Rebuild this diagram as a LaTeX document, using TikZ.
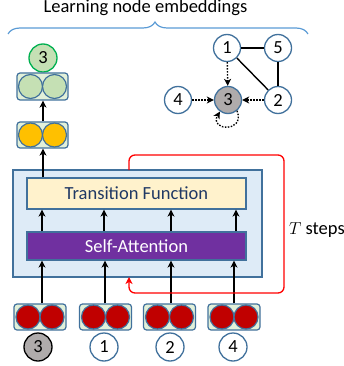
\documentclass[tikz,border=0pt]{standalone}
\usepackage{fontspec}
\setmainfont{Carlito}
\usetikzlibrary{arrows.meta,decorations.pathreplacing,calc}
\definecolor{bord}{HTML}{41719C}
\definecolor{bgblue}{HTML}{DEEBF7}
\definecolor{cream}{HTML}{FFF2CC}
\definecolor{purp}{HTML}{7030A0}
\definecolor{vecfill}{HTML}{E2F0D9}
\definecolor{lgreen}{HTML}{C5E0B4}
\definecolor{dgreen}{HTML}{00B050}
\definecolor{orng}{HTML}{FFC000}
\definecolor{dred}{HTML}{C00000}
\definecolor{gry}{HTML}{AFABAB}
\definecolor{navy}{HTML}{1F3864}
\definecolor{brc}{HTML}{5B9BD5}
\tikzset{
  every node/.style={font=\fontsize{18.5}{22}\selectfont, inner sep=0pt},
  vecbox/.style={draw=bord, line width=1.2pt, fill=vecfill, rounded corners=3pt, minimum width=52pt, minimum height=26pt},
  cell/.style={circle, draw=bord, line width=1.2pt, minimum size=24pt},
  gnode/.style={circle, draw=bord, line width=1.3pt, fill=white, minimum size=27pt},
  arr/.style={line width=1.4pt, -{Stealth[length=7pt,width=7pt,inset=2pt]}},
  darr/.style={line width=1.4pt, dash pattern=on 1.5pt off 1.5pt, -{Stealth[length=7pt,width=7pt,inset=2pt]}},
  gedge/.style={line width=1.4pt},
}
\begin{document}
\begin{tikzpicture}[x=1pt,y=-1pt]
\useasboundingbox (0,0) rectangle (344,366);
% title and brace
\node[anchor=base] (title) at (145.5,12.7) {Learning node embeddings};
\draw[brc, line width=1.2pt, decorate, decoration={brace, amplitude=12pt, aspect=0.49}] (8,34) -- (308,34);

% output stack
\node[circle, draw=dgreen, fill=lgreen, line width=1.3pt, minimum size=28pt] (out) at (43,58) {3};
\node[vecbox, minimum width=51pt, minimum height=27pt] (gbox) at (42.5,86.5) {};
\node[cell, fill=lgreen] (gc1) at (30.5,86.5) {};
\node[cell, fill=lgreen] (gc2) at (54.5,86.5) {};
\node[vecbox, minimum width=51pt, minimum height=26pt] (obox) at (42.5,135) {};
\node[cell, fill=orng] (oc1) at (30.5,135) {};
\node[cell, fill=orng] (oc2) at (54.5,135) {};

% big box
\node[draw=bord, fill=bgblue, line width=1.2pt, minimum width=249pt, minimum height=107pt] (big) at (137.5,223.5) {};
\node[draw=bord, fill=cream, line width=1.2pt, minimum width=219pt, minimum height=31pt, text=navy] (tf) at (136.5,193.5) {Transition Function};
\node[draw=bord, fill=purp, line width=1.2pt, minimum width=219pt, minimum height=28pt, text=white] (sa) at (136.5,246) {Self-Attention};

% arrows
\draw[arr] (tf.north -| 43,0) -- (obox.south -| 43,0);
\draw[arr] (obox.north -| 43,0) -- (gbox.south -| 43,0);
\foreach \x in {42,104,171,236}{
  \draw[arr] (sa.north -| \x,0) -- (tf.south -| \x,0);
}

% bottom vectors
\foreach \i/\x in {1/40,2/105.5,3/169.5,4/234}{
  \node[vecbox] (v\i) at (\x,317) {};
  \node[cell, fill=dred] (v\i a) at (\x-12,317) {};
  \node[cell, fill=dred] (v\i b) at (\x+12,317) {};
}
\draw[arr] (v1.north -| 42,0) -- (sa.south -| 42,0);
\draw[arr] (v2.north -| 105,0) -- (sa.south -| 105,0);
\draw[arr] (v3.north -| 171,0) -- (sa.south -| 171,0);
\draw[arr] (v4.north -| 234,0) -- (sa.south -| 234,0);

% bottom labels
\node[circle, draw=black, fill=gry, line width=1.3pt, minimum size=28pt] (b3) at (38,347) {3};
\node[gnode, minimum size=28pt] (b1) at (104,347) {1};
\node[gnode, minimum size=28pt] (b2) at (170,347) {2};
\node[gnode, minimum size=28pt] (b4) at (233,347) {4};

% red loop
\coordinate (rs) at (129,170);
\coordinate (re) at (129,277);
\draw[red, line width=1.3pt, rounded corners=6pt, -{Stealth[length=7pt,width=7pt,inset=2pt]}]
  (rs) -- (129,155) -- (284,155) -- (284,293) -- (129,293) -- (re);
\node[anchor=west] (tsteps) at (289,230) {$T$ steps};

% graph
\node[gnode] (g1) at (227,48) {1};
\node[gnode] (g5) at (278,48) {5};
\node[gnode] (g4) at (178,100) {4};
\node[gnode, fill=gry] (g3) at (228,100) {3};
\node[gnode] (g2) at (278,100) {2};
\draw[gedge] (g1) -- (g5);
\draw[gedge] (g5) -- (g2);
\draw[gedge] (g1) -- (g2);
\draw[darr] (g1) -- (g3);
\draw[darr] (g4) -- (g3);
\draw[darr] (g2) -- (g3);
\draw[darr] (g3.-50) .. controls +(70:24) and +(120:22) .. (g3.-125);
\end{tikzpicture}
\end{document}
